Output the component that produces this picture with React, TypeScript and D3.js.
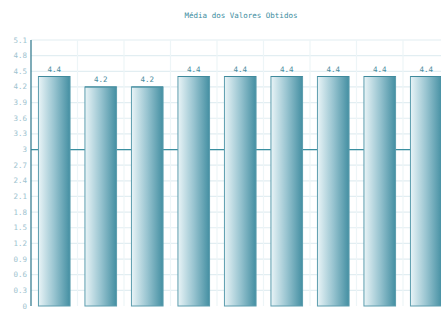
import React from "react";
import * as d3 from "d3";

const categories = ["C1", "C2", "C3", "C4", "C5", "C6", "C7", "C8", "C9"];
const values = [4.4, 4.2, 4.2, 4.4, 4.4, 4.4, 4.4, 4.4, 4.4];
const yTicks = d3.range(0, 18).map((i) => +(i * 0.3).toFixed(1));
const referenceValue = 3;
const title = "Média dos Valores Obtidos";

const width = 441;
const height = 311;
const font = "'DejaVu Sans Mono', monospace";

const App = () => {
    const margin = { top: 40, left: 31, bottom: 5 };

    // plot runs a little past the window, the last bar gets clipped like the original
    const x = d3.scaleBand().domain(categories).range([margin.left, 449.5]).padding(0);
    const y = d3.scaleLinear().domain([0, 5.1]).range([height - margin.bottom, margin.top]);
    const barW = x.bandwidth() * 0.68;
    const fmt = (v) => (v === 0 ? "0" : v === 3 ? "3" : d3.format(".1f")(v));

    return (
        <svg width={width} height={height} style={{ position: "absolute", left: 0, top: 0 }}>
            <defs>
                <linearGradient id="barGrad" x1="0" x2="1" y1="0" y2="0">
                    <stop offset="0" stopColor="#e9f4f7" />
                    <stop offset="0.5" stopColor="#98c4d0" />
                    <stop offset="1" stopColor="#448fa2" />
                </linearGradient>
            </defs>
            <text x={241} y={18} textAnchor="middle" fontFamily={font} fontSize={7.5} fill="#3c8da0">
                {title}
            </text>

            {/* grid */}
            {yTicks.slice(1).map((t) => (
                <line key={"h" + t} x1={margin.left} x2={width} y1={y(t)} y2={y(t)} stroke="#e2eef2" strokeWidth={1.2} />
            ))}
            {categories.slice(1).map((c) => (
                <line key={"v" + c} x1={x(c)} x2={x(c)} y1={y(5.1)} y2={y(0)} stroke="#edf5f7" strokeWidth={1.2} />
            ))}

            {/* reference line */}
            <line x1={margin.left} x2={width} y1={y(referenceValue)} y2={y(referenceValue)} stroke="#3a8fa0" strokeWidth={1.2} />

            {/* bars */}
            {categories.map((c, i) => {
                const bx = x(c) + (x.bandwidth() - barW) / 2;
                return (
                    <g key={c}>
                        <rect x={bx} y={y(values[i])} width={barW} height={y(0) - y(values[i])}
                            fill="url(#barGrad)" stroke="#5c9dae" strokeWidth={1} />
                        <line x1={bx} x2={bx + barW} y1={y(values[i])} y2={y(values[i])} stroke="#3f8a9c" strokeWidth={1} />
                        <text x={bx + barW / 2} y={y(values[i]) - 5} textAnchor="middle"
                            fontFamily={font} fontSize={7.5} fill="#4a8c9e">
                            {values[i].toFixed(1)}
                        </text>
                    </g>
                );
            })}

            {/* y axis */}
            <line x1={margin.left} x2={margin.left} y1={y(5.1)} y2={y(0)} stroke="#3a7f92" strokeWidth={1.3} />
            {yTicks.map((t) => (
                <text key={"t" + t} x={27} y={y(t) + 2.5} textAnchor="end" fontFamily={font} fontSize={7.5} fill="#9ec3cf">
                    {fmt(t)}
                </text>
            ))}
        </svg>
    );
};

export default App;
